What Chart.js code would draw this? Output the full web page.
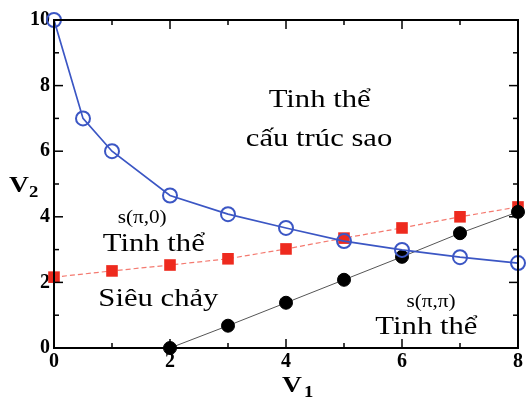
<!DOCTYPE html>
<html><head><meta charset="utf-8">
<script src="https://cdn.jsdelivr.net/npm/chart.js@4"></script>
<style>html,body{margin:0;padding:0;background:#fff}#wrap{width:527px;height:397px}</style>
</head><body><div id="wrap"><canvas id="c" width="527" height="397"></canvas></div>
<script>
const blueX = [0, 0.5, 1, 2, 3, 4, 5, 6, 7, 8];
const blueY = [10, 7, 6, 4.65, 4.08, 3.66, 3.26, 2.99, 2.77, 2.59];
const redX = [0, 1, 2, 3, 4, 5, 6, 7, 8];
const redY = [2.16, 2.35, 2.53, 2.72, 3.02, 3.35, 3.66, 4.0, 4.3];
const blackX = [2, 3, 4, 5, 6, 7, 8];
const blackY = [0, 0.68, 1.38, 2.08, 2.78, 3.5, 4.15];
const xTicks = [0, 2, 4, 6, 8];
const yTicks = [0, 2, 4, 6, 8, 10];
const labels = [
  {x: 4.58, y: 7.55, text: 'Tinh thể', size: 26},
  {x: 4.57, y: 6.38, text: 'cấu trúc sao', size: 26},
  {x: 1.52, y: 3.95, text: 's(π,0)', size: 18},
  {x: 1.72, y: 3.18, text: 'Tinh thể', size: 26},
  {x: 1.8, y: 1.48, text: 'Siêu chảy', size: 26},
  {x: 6.5, y: 1.4, text: 's(π,π)', size: 18},
  {x: 6.42, y: 0.62, text: 'Tinh thể', size: 26}
];
const pts = (xs, ys) => xs.map((x, i) => ({x, y: ys[i]}));

function stretchText(ctx, text, x, y, sx) {
  ctx.save(); ctx.translate(x, y); ctx.scale(sx, 1); ctx.fillText(text, 0, 0); ctx.restore();
}

const frame = {
  id: 'frame',
  afterDatasetsDraw(chart) {
    const ctx = chart.ctx, a = chart.chartArea;
    const xs = chart.scales.x, ys = chart.scales.y;
    ctx.save();
    ctx.strokeStyle = '#000'; ctx.lineWidth = 2;
    ctx.strokeRect(a.left, a.top, a.right - a.left, a.bottom - a.top);
    ctx.lineWidth = 1.5;
    for (let v = 0; v <= 8; v++) {
      const px = xs.getPixelForValue(v), L = v % 2 === 0 ? 9 : 5;
      ctx.beginPath(); ctx.moveTo(px, a.bottom); ctx.lineTo(px, a.bottom - L); ctx.stroke();
      ctx.beginPath(); ctx.moveTo(px, a.top); ctx.lineTo(px, a.top + L); ctx.stroke();
    }
    for (let v = 0; v <= 10; v++) {
      const py = ys.getPixelForValue(v), L = v % 2 === 0 ? 9 : 5;
      ctx.beginPath(); ctx.moveTo(a.left, py); ctx.lineTo(a.left + L, py); ctx.stroke();
      ctx.beginPath(); ctx.moveTo(a.right, py); ctx.lineTo(a.right - L, py); ctx.stroke();
    }
    ctx.fillStyle = '#000';
    ctx.textAlign = 'center'; ctx.textBaseline = 'middle';
    labels.forEach(l => {
      ctx.font = l.size + 'px "Liberation Serif", serif';
      stretchText(ctx, l.text, xs.getPixelForValue(l.x), ys.getPixelForValue(l.y), 1.18);
    });
    // axis titles
    ctx.textAlign = 'left'; ctx.textBaseline = 'alphabetic';
    ctx.font = 'bold 24px "Liberation Serif", serif';
    stretchText(ctx, 'V', 282, 392, 1.15);
    stretchText(ctx, 'V', 9, 192, 1.15);
    ctx.font = 'bold 17px "Liberation Serif", serif';
    stretchText(ctx, '1', 304, 397, 1.1);
    stretchText(ctx, '2', 29, 197, 1.1);
    ctx.restore();
  }
};

new Chart(document.getElementById('c'), {
  type: 'scatter',
  data: {
    datasets: [
      {data: pts(redX, redY), showLine: true, borderColor: '#f47a70', borderWidth: 1.2, borderDash: [5, 3],
       pointStyle: 'rect', pointRadius: 8.2, pointBackgroundColor: '#ee2a1e', pointBorderColor: '#ee2a1e', pointBorderWidth: 0, order: 3},
      {data: pts(blackX, blackY), showLine: true, borderColor: '#555', borderWidth: 1,
       pointStyle: 'circle', pointRadius: 6.5, pointBackgroundColor: '#000', pointBorderColor: '#000', order: 2},
      {data: pts(blueX, blueY), showLine: true, borderColor: '#3b56c4', borderWidth: 1.7,
       pointStyle: 'circle', pointRadius: 7, pointBackgroundColor: 'rgba(0,0,0,0)', pointBorderColor: '#3b56c4', pointBorderWidth: 2, order: 1}
    ]
  },
  options: {
    responsive: false, animation: false, clip: false,
    layout: {padding: {top: 20, right: 4, left: 0, bottom: 0}},
    plugins: {legend: {display: false}, tooltip: {enabled: false}},
    scales: {
      x: {type: 'linear', min: 0, max: 8,
          afterFit: s => { s.height = 49; },
          afterBuildTicks: s => { s.ticks = xTicks.map(v => ({value: v})); },
          grid: {display: false, drawTicks: false, tickLength: 0}, border: {display: false},
          ticks: {color: '#000', padding: 2, maxRotation: 0, font: {family: '"Liberation Serif", serif', weight: 'bold', size: 20}}},
      y: {type: 'linear', min: 0, max: 10,
          afterFit: s => { s.width = 54; },
          afterBuildTicks: s => { s.ticks = yTicks.map(v => ({value: v})); },
          grid: {display: false, drawTicks: false, tickLength: 0}, border: {display: false},
          ticks: {color: '#000', padding: 4, font: {family: '"Liberation Serif", serif', weight: 'bold', size: 20}}}
    }
  },
  plugins: [frame]
});
</script></body></html>
